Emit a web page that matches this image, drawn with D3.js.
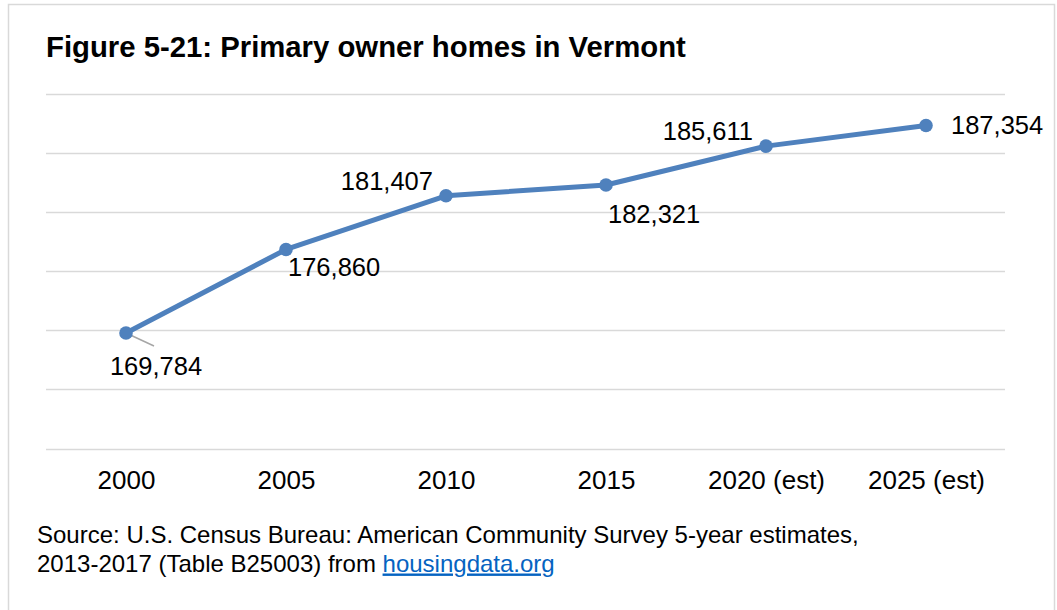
<!DOCTYPE html>
<html>
<head>
<meta charset="utf-8">
<script src="https://cdn.jsdelivr.net/npm/d3@7"></script>
<style>
  html, body { margin: 0; padding: 0; background: #ffffff; }
  svg { display: block; font-family: Arial, "Liberation Sans", sans-serif; }
</style>
</head>
<body>
<svg id="chart" width="1057" height="610"></svg>
<script>
// Primary owner-occupied homes in Vermont, by year
const years = ["2000", "2005", "2010", "2015", "2020 (est)", "2025 (est)"];
const homes = [169784, 176860, 181407, 182321, 185611, 187354];
const gridValues = [160000, 165000, 170000, 175000, 180000, 185000, 190000];
// where each value label sits relative to its point
const labelSide = ["below-leader", "below-right", "left", "below-right-low", "left", "right"];

const svg = d3.select("#chart");
const W = 1057, H = 610;

// outer frame
svg.append("rect")
  .attr("x", 8.5).attr("y", 4.5)
  .attr("width", 1046).attr("height", 620)
  .attr("fill", "#fff").attr("stroke", "#d9d9d9").attr("stroke-width", 1.5);

// title
svg.append("text")
  .attr("x", 46).attr("y", 57)
  .attr("font-size", 29.3).attr("font-weight", "bold").attr("fill", "#000")
  .text("Figure 5-21: Primary owner homes in Vermont");

const x = d3.scalePoint().domain(years).range([46, 1006]).padding(0.5);
const y = d3.scaleLinear().domain([160000, 190000]).range([448.5, 94.3]);

// horizontal gridlines
svg.append("g").selectAll("line").data(gridValues).join("line")
  .attr("x1", 46).attr("x2", 1005)
  .attr("y1", d => Math.round(y(d)) + 0.5).attr("y2", d => Math.round(y(d)) + 0.5)
  .attr("stroke", "#d9d9d9").attr("stroke-width", 1.5);

// category axis (labels only)
const xAxis = svg.append("g")
  .attr("transform", `translate(0, ${y(160000)})`)
  .call(d3.axisBottom(x).tickSize(0).tickPadding(0));
xAxis.select(".domain").remove();
xAxis.selectAll("text")
  .attr("font-size", 26).attr("fill", "#000")
  .attr("font-family", "Arial, 'Liberation Sans', sans-serif")
  .attr("dy", null).attr("y", 40.5);

// series line
const pts = years.map((k, i) => ({ k, v: homes[i], side: labelSide[i] }));
svg.append("path")
  .datum(pts)
  .attr("fill", "none").attr("stroke", "#4f81bd").attr("stroke-width", 5)
  .attr("stroke-linejoin", "round").attr("stroke-linecap", "round")
  .attr("d", d3.line().x(d => x(d.k)).y(d => y(d.v)));

// leader line for the first label
const first = pts[0];
svg.append("line")
  .attr("x1", x(first.k)).attr("y1", y(first.v))
  .attr("x2", x(first.k) + 28).attr("y2", y(first.v) + 13)
  .attr("stroke", "#a6a6a6").attr("stroke-width", 1.5);

// markers
svg.append("g").selectAll("circle").data(pts).join("circle")
  .attr("cx", d => x(d.k)).attr("cy", d => y(d.v)).attr("r", 6.8)
  .attr("fill", "#4f81bd");

// value labels
const fmt = d3.format(",");
const offsets = {
  "below-leader":    { dx: 30,  dy: 42, anchor: "middle" },
  "below-right":     { dx: 2,   dy: 27, anchor: "start" },
  "left":            { dx: -13, dy: -6, anchor: "end" },
  "below-right-low": { dx: 2,   dy: 38, anchor: "start" },
  "right":           { dx: 25,  dy: 8,  anchor: "start" }
};
svg.append("g").selectAll("text").data(pts).join("text")
  .attr("x", d => x(d.k) + offsets[d.side].dx)
  .attr("y", d => y(d.v) + offsets[d.side].dy)
  .attr("text-anchor", d => offsets[d.side].anchor)
  .attr("font-size", 25.5).attr("fill", "#000")
  .text(d => fmt(d.v));

// source note
const note = svg.append("text").attr("font-size", 24).attr("fill", "#000");
note.append("tspan").attr("x", 37).attr("y", 543)
  .text("Source: U.S. Census Bureau: American Community Survey 5-year estimates,");
const l2 = note.append("tspan").attr("x", 37).attr("y", 571.5);
l2.append("tspan").text("2013-2017 (Table B25003) from ");
l2.append("tspan").attr("fill", "#0563c1").attr("text-decoration", "underline")
  .text("housingdata.org");
</script>
</body>
</html>
